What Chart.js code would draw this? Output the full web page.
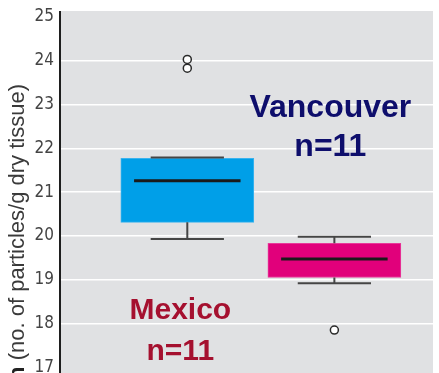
<!DOCTYPE html>
<html>
<head>
<meta charset="utf-8">
<script src="https://cdn.jsdelivr.net/npm/chart.js@4.4.1/dist/chart.umd.min.js"></script>
<style>
  html, body { margin: 0; padding: 0; background: #ffffff; }
  #wrap { width: 439px; height: 373px; }
</style>
</head>
<body>
<div id="wrap"><canvas id="c" width="439" height="373"></canvas></div>
<script>
// Particle burden per site, ln(no. of particles / g dry tissue)
const categories   = ['Mexico', 'Vancouver'];
const sampleSizes  = [11, 11];
const q1Values     = [20.31, 19.05];
const medianValues = [21.26, 19.47];
const q3Values     = [21.77, 19.83];
const whiskerLow   = [19.93, 18.92];
const whiskerHigh  = [21.79, 19.98];
const outliers     = [[24.03, 23.83], [17.85]];
const yTicks       = [17, 18, 19, 20, 21, 22, 23, 24, 25];

const boxColors   = ['#009fe8', '#e1007b'];
const boxBorders  = ['#3ab3ee', '#e8399a'];
const labelColors = ['#a5102f', '#0e0e6c'];

const BOX_HALF = 0.362;   // half box width, in category units
const CAP_HALF = 0.249;   // half whisker-cap width

// Floating bars span the interquartile range
const boxData = categories.map((c, i) => ({ x: i, y: [q1Values[i], q3Values[i]] }));

// Whisker stems and caps as broken line segments
const whiskerData = [];
categories.forEach((c, i) => {
  whiskerData.push({ x: i, y: q1Values[i] }, { x: i, y: whiskerLow[i] }, { x: i, y: null });
  whiskerData.push({ x: i - CAP_HALF, y: whiskerLow[i] }, { x: i + CAP_HALF, y: whiskerLow[i] }, { x: i, y: null });
  whiskerData.push({ x: i, y: q3Values[i] }, { x: i, y: whiskerHigh[i] }, { x: i, y: null });
  whiskerData.push({ x: i - CAP_HALF, y: whiskerHigh[i] }, { x: i + CAP_HALF, y: whiskerHigh[i] }, { x: i, y: null });
});

const medianData = [];
categories.forEach((c, i) => {
  medianData.push({ x: i - BOX_HALF, y: medianValues[i] }, { x: i + BOX_HALF, y: medianValues[i] }, { x: i, y: null });
});

const outlierData = [];
outliers.forEach((list, i) => list.forEach(v => outlierData.push({ x: i, y: v })));

// Grey plotting panel and the y-axis rule
const panelPlugin = {
  id: 'panel',
  beforeDraw(chart) {
    const { ctx, chartArea: a } = chart;
    ctx.save();
    ctx.fillStyle = '#e0e1e3';
    ctx.fillRect(a.left, a.top, a.right - a.left, a.bottom - a.top);
    ctx.restore();
  },
  afterDatasetsDraw(chart) {
    const { ctx, chartArea: a } = chart;
    ctx.save();
    ctx.strokeStyle = '#1e1e1e';
    ctx.lineWidth = 2;
    ctx.beginPath();
    ctx.moveTo(a.left, a.top);
    ctx.lineTo(a.left, a.bottom);
    ctx.stroke();
    ctx.restore();
  }
};

// Rotated axis title with a bold "ln" prefix, plus site labels
const textPlugin = {
  id: 'texts',
  afterDraw(chart) {
    const { ctx } = chart;
    const xs = chart.scales.x, ys = chart.scales.y;
    ctx.save();
    // axis title
    ctx.translate(24, 84);
    ctx.rotate(-Math.PI / 2);
    ctx.fillStyle = '#3a3a3a';
    ctx.textBaseline = 'alphabetic';
    ctx.textAlign = 'right';
    ctx.font = '22px "Liberation Sans", Arial, sans-serif';
    const rest = '(no. of particles/g dry tissue)';
    ctx.fillText(rest, 0, 0);
    const restW = ctx.measureText(rest).width;
    const spaceW = ctx.measureText(' ').width;
    ctx.font = 'bold 22px "Liberation Sans", Arial, sans-serif';
    ctx.fillStyle = '#222222';
    ctx.fillText('ln', -restW - spaceW, 0);
    ctx.restore();

    // site labels
    ctx.save();
    ctx.textAlign = 'center';
    ctx.textBaseline = 'alphabetic';
    const spots = [
      { dx: -7, y1: 18.10, y2: 17.17, size: 30 },
      { dx: -4, y1: 22.72, y2: 21.83, size: 32 }
    ];
    categories.forEach((c, i) => {
      const s = spots[i];
      const cx = xs.getPixelForValue(i) + s.dx;
      ctx.fillStyle = labelColors[i];
      ctx.font = 'bold ' + s.size + 'px "Liberation Sans", Arial, sans-serif';
      ctx.fillText(c, cx, ys.getPixelForValue(s.y1));
      ctx.fillText('n=' + sampleSizes[i], cx, ys.getPixelForValue(s.y2));
    });
    ctx.restore();
  }
};

new Chart(document.getElementById('c'), {
  data: {
    datasets: [
      {
        type: 'bar',
        label: 'IQR',
        data: boxData,
        backgroundColor: boxColors,
        borderColor: boxBorders,
        borderWidth: 1,
        borderSkipped: false,
        barThickness: 133,
        order: 4
      },
      {
        type: 'line',
        label: 'whiskers',
        data: whiskerData,
        borderColor: '#454545',
        borderWidth: 2,
        pointRadius: 0,
        spanGaps: false,
        fill: false,
        order: 3
      },
      {
        type: 'line',
        label: 'median',
        data: medianData,
        borderColor: '#1a1a1a',
        borderWidth: 3,
        pointRadius: 0,
        spanGaps: false,
        fill: false,
        order: 2
      },
      {
        type: 'scatter',
        label: 'outliers',
        data: outlierData,
        pointStyle: 'circle',
        pointRadius: 4,
        pointBackgroundColor: '#ffffff',
        pointBorderColor: '#2a2a2a',
        pointBorderWidth: 1.5,
        order: 1
      }
    ]
  },
  options: {
    responsive: false,
    animation: false,
    layout: { autoPadding: false, padding: { left: 0, right: 6, top: 11, bottom: 0 } },
    plugins: { legend: { display: false }, tooltip: { enabled: false } },
    scales: {
      x: {
        type: 'linear',
        display: false,
        min: -0.612,
        max: 1.417
      },
      y: {
        type: 'linear',
        min: 16.87,
        max: 25.135,
        afterBuildTicks(scale) {
          scale.ticks = yTicks.map(v => ({ value: v }));
        },
        afterFit(scale) {
          scale.width = 60;
          scale.paddingTop = 0;
          scale.paddingBottom = 0;
        },
        border: { display: false },
        grid: {
          drawTicks: false,
          lineWidth: 1.5,
          color: ctx => (ctx.tick && ctx.tick.value > yTicks[0] && ctx.tick.value < yTicks[yTicks.length - 1]) ? '#ffffff' : 'rgba(0,0,0,0)'
        },
        ticks: {
          padding: 6,
          color: '#444444',
          font: { family: '"Liberation Sans Narrow", "DejaVu Sans Condensed", sans-serif', size: 17, lineHeight: 1 },
          callback: v => String(v)
        }
      }
    }
  },
  plugins: [panelPlugin, textPlugin]
});
</script>
</body>
</html>
